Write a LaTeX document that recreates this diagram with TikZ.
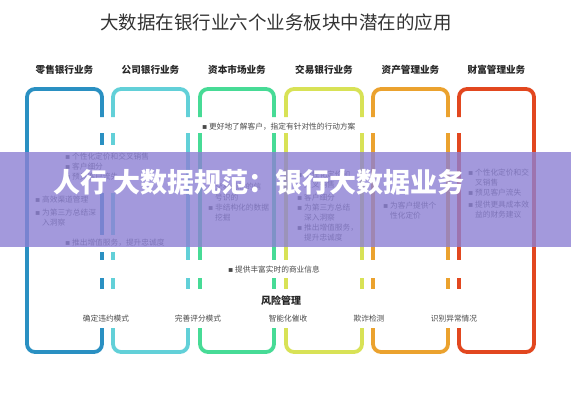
\documentclass[tikz,border=0pt]{standalone}
\usepackage{fontspec}
\setmainfont{Noto Sans CJK SC}
\newfontfamily\dv{DejaVu Sans}
\newcommand\bul{{\dv\char"25AA}}
\newcommand\ind{\phantom{\bul\ }}
\definecolor{cA}{HTML}{2A90C2}
\definecolor{cB}{HTML}{62D0D8}
\definecolor{cC}{HTML}{47DB96}
\definecolor{cD}{HTML}{D8E256}
\definecolor{cE}{HTML}{EBA22E}
\definecolor{cF}{HTML}{E2471F}
\definecolor{txtc}{HTML}{4A4A4A}
\definecolor{ovc}{RGB}{140,128,212}
\begin{document}
\begin{tikzpicture}[x=1pt,y=-1pt,
  txt/.style={font=\fontsize{7.7}{9}\selectfont, text=txtc, inner sep=0pt, anchor=west},
  lbl/.style={font=\fontsize{7.7}{9}\selectfont, text=txtc, inner sep=0pt},
  hdr/.style={font=\fontsize{9.6}{11}\selectfont\bfseries, text=black!85, inner sep=0pt},
  edge/.style={line width=3.8pt},
  corner/.style={edge, rounded corners=8pt}]
\useasboundingbox (0,0) rectangle (571,400);
\fill[white] (0,0) rectangle (571,400);

% title and headers
\node[font=\fontsize{18.5}{20}\selectfont, text=black!80, inner sep=0pt] (title) at (276,22) {大数据在银行业六个业务板块中潜在的应用};
\node[hdr] (h1) at (64.5,70) {零售银行业务};
\node[hdr] (h2) at (150.5,70) {公司银行业务};
\node[hdr] (h3) at (237,70) {资本市场业务};
\node[hdr] (h4) at (324,70) {交易银行业务};
\node[hdr] (h5) at (410.5,70) {资产管理业务};
\node[hdr] (h6) at (496.5,70) {财富管理业务};

% outer boxes
\draw[corner,cA] (102,117) -- (102,89) -- (27,89) -- (27,352) -- (102,352) -- (102,328);
\draw[corner,cF] (459,117) -- (459,89) -- (534,89) -- (534,352) -- (459,352) -- (459,328);
\foreach \L/\R/\c in {113/188/cB, 200/274/cC, 286/362/cD, 373/448/cE} {
  \draw[corner,\c] (\L,117) -- (\L,89) -- (\R,89) -- (\R,117);
  \draw[corner,\c] (\L,328) -- (\L,352) -- (\R,352) -- (\R,328);
}
% inner edge segments
\foreach \x/\c in {102/cA, 113/cB} {
  \draw[edge,\c] (\x,133) -- (\x,145);
  \draw[edge,\c] (\x,193) -- (\x,235);
  \draw[edge,\c] (\x,252) -- (\x,260);
  \draw[edge,\c] (\x,278) -- (\x,289);
}
\foreach \x/\c in {188/cB, 200/cC, 274/cC, 286/cD, 362/cD, 373/cE, 448/cE, 459/cF} {
  \draw[edge,\c] (\x,133) -- (\x,260);
  \draw[edge,\c] (\x,278) -- (\x,289);
}

% row A
\node[txt] (ra) at (202,127) {\bul\ 更好地了解客户，指定有针对性的行动方案};

% retail / corporate
\node[txt] (b1) at (65,157) {\bul\ 个性化定价和交叉销售};
\node[txt] (b2) at (65,167) {\bul\ 客户细分};
\node[txt] (b3) at (65,177) {\bul\ 预见客户流失};
\node[txt] (b4) at (35,200) {\bul\ 高效渠道管理};
\node[txt] (b5) at (35,213) {\bul\ 为第三方总结深};
\node[txt] (b6) at (35,223) {\ind 入洞察};
\node[txt] (b7) at (65,243) {\bul\ 推出增值服务，提升忠诚度};

% capital markets
\node[txt] (c1) at (208,187) {\bul\ 交易前后的信};
\node[txt] (c2) at (208,198) {\ind 号识的};
\node[txt] (c3) at (208,208) {\bul\ 非结构化的数据};
\node[txt] (c4) at (208,218) {\ind 挖掘};

% transaction banking
\node[txt] (d1) at (297,175) {\bul\ 个性化定价和};
\node[txt] (d2) at (297,185) {\ind 交叉销售};
\node[txt] (d3) at (297,198) {\bul\ 客户细分};
\node[txt] (d4) at (297,208) {\bul\ 为第三方总结};
\node[txt] (d5) at (297,218) {\ind 深入洞察};
\node[txt] (d6) at (297,228) {\bul\ 推出增值服务，};
\node[txt] (d7) at (297,238) {\ind 提升忠诚度};

% asset management
\node[txt] (e1) at (383,206) {\bul\ 为客户提供个};
\node[txt] (e2) at (383,216) {\ind 性化定价};

% wealth management
\node[txt] (f1) at (468,173) {\bul\ 个性化定价和交};
\node[txt] (f2) at (468,183) {\ind 叉销售};
\node[txt] (f3) at (468,193) {\bul\ 预见客户流失};
\node[txt] (f4) at (468,205) {\bul\ 提供更具成本效};
\node[txt] (f5) at (468,215) {\ind 益的财务建议};

% row C
\node[txt] (rc) at (228,270) {\bul\ 提供丰富实时的商业信息};

% risk management
\node[font=\fontsize{10}{12}\selectfont\bfseries, text=black!85, inner sep=0pt] (risk) at (281,301) {风险管理};
\node[lbl] (r1) at (106,319) {确定违约模式};
\node[lbl] (r2) at (198,319) {完善评分模式};
\node[lbl] (r3) at (288,319) {智能化催收};
\node[lbl] (r4) at (369,319) {欺诈检测};
\node[lbl] (r5) at (454,319) {识别异常情况};

% overlay band
\fill[ovc, opacity=0.8] (0,152) rectangle (571,247);
\node[font=\fontsize{27}{28}\selectfont\bfseries, text=white, inner sep=0pt, anchor=west] (wm) at (53,182) {人行 大数据规范：银行大数据业务};
\end{tikzpicture}
\end{document}
